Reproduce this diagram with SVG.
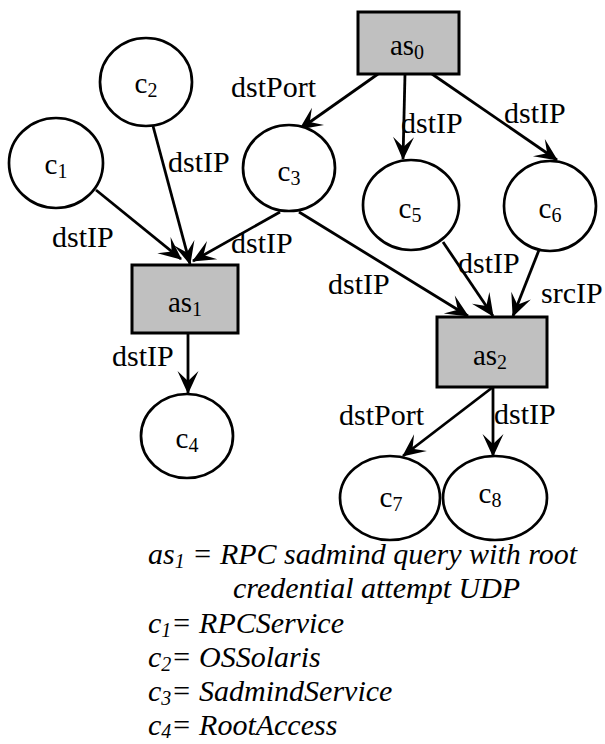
<svg xmlns="http://www.w3.org/2000/svg" width="605" height="744" viewBox="0 0 605 744">
<style>
.n{fill:#fff;stroke:#000;stroke-width:2.7}
.b{fill:#c0c0c0;stroke:#000;stroke-width:3}
.e{fill:none;stroke:#000;stroke-width:2.8}
text{font-family:"Liberation Serif","Times New Roman",serif;fill:#000}
.t{font-size:29px;text-anchor:middle}
.l{font-size:30px}
.g{font-size:30px;font-style:italic}
.s{font-size:20px}
</style>
<defs>
<marker id="ah" markerUnits="userSpaceOnUse" markerWidth="26" markerHeight="24" viewBox="-24 -12 26 24" refX="0" refY="0" orient="auto" overflow="visible">
<path d="M1,0 L-22,-10.5 L-12,0 L-22,10.5 Z" fill="#000"/>
</marker>
</defs>
<g id="connectors">
<line class="e" x1="378" y1="74" x2="300" y2="129" marker-end="url(#ah)"/>
<line class="e" x1="405" y1="74" x2="403" y2="159" marker-end="url(#ah)"/>
<line class="e" x1="432" y1="74" x2="557" y2="160" marker-end="url(#ah)"/>
<line class="e" x1="153" y1="126" x2="190" y2="264" marker-end="url(#ah)"/>
<line class="e" x1="96" y1="190" x2="181" y2="259" marker-end="url(#ah)"/>
<line class="e" x1="280" y1="212" x2="193" y2="261" marker-end="url(#ah)"/>
<line class="e" x1="299" y1="212" x2="468" y2="316" marker-end="url(#ah)"/>
<line class="e" x1="443" y1="242" x2="493" y2="316" marker-end="url(#ah)"/>
<line class="e" x1="539" y1="250" x2="513" y2="316" marker-end="url(#ah)"/>
<line class="e" x1="188" y1="333" x2="188" y2="393" marker-end="url(#ah)"/>
<line class="e" x1="493" y1="387" x2="403" y2="456" marker-end="url(#ah)"/>
<line class="e" x1="493" y1="387" x2="493" y2="456" marker-end="url(#ah)"/>
<text class="l" x="231" y="97">dstPort</text>
<text class="l" x="168" y="172">dstIP</text>
<text class="l" x="52" y="247">dstIP</text>
<text class="l" x="231" y="253">dstIP</text>
<text class="l" x="401" y="133">dstIP</text>
<text class="l" x="504" y="123">dstIP</text>
<text class="l" x="328" y="294">dstIP</text>
<text class="l" x="458" y="273">dstIP</text>
<text class="l" x="541" y="303">srcIP</text>
<text class="l" x="112" y="366">dstIP</text>
<text class="l" x="339" y="425">dstPort</text>
<text class="l" x="494" y="424">dstIP</text>
</g>
<g id="as0"><rect class="b" x="358" y="12" width="101" height="62"/><text class="t" x="407" y="55">as<tspan class="s" dy="4">0</tspan></text></g>
<g id="c1"><ellipse class="n" cx="56" cy="163" rx="47" ry="45"/><text class="t" x="56" y="174">c<tspan class="s" dy="4">1</tspan></text></g>
<g id="c2"><ellipse class="n" cx="146" cy="82" rx="46" ry="44"/><text class="t" x="146" y="93">c<tspan class="s" dy="4">2</tspan></text></g>
<g id="c3"><ellipse class="n" cx="289" cy="168" rx="46" ry="43"/><text class="t" x="289" y="181">c<tspan class="s" dy="4">3</tspan></text></g>
<g id="c5"><ellipse class="n" cx="411" cy="205" rx="48" ry="45"/><text class="t" x="410" y="218">c<tspan class="s" dy="4">5</tspan></text></g>
<g id="c6"><ellipse class="n" cx="550" cy="206" rx="46" ry="45"/><text class="t" x="550" y="218">c<tspan class="s" dy="4">6</tspan></text></g>
<g id="as1"><rect class="b" x="132" y="265" width="106" height="68"/><text class="t" x="185" y="312">as<tspan class="s" dy="4">1</tspan></text></g>
<g id="c4"><ellipse class="n" cx="187" cy="436" rx="46" ry="42"/><text class="t" x="187" y="448">c<tspan class="s" dy="4">4</tspan></text></g>
<g id="as2"><rect class="b" x="437" y="317" width="110" height="70"/><text class="t" x="490" y="365">as<tspan class="s" dy="4">2</tspan></text></g>
<g id="c7"><ellipse class="n" cx="390" cy="498" rx="50" ry="42"/><text class="t" x="391" y="507">c<tspan class="s" dy="4">7</tspan></text></g>
<g id="c8"><ellipse class="n" cx="495" cy="498" rx="52" ry="42"/><text class="t" x="490" y="503">c<tspan class="s" dy="4">8</tspan></text></g>
<g id="legend">
<text class="g" x="148" y="564">as<tspan class="s" dy="4">1</tspan><tspan dy="-4"> = RPC sadmind query with root</tspan></text>
<text class="g" x="233" y="598">credential attempt UDP</text>
<text class="g" x="148" y="633">c<tspan class="s" dy="4">1</tspan><tspan dy="-4">= RPCService</tspan></text>
<text class="g" x="148" y="667">c<tspan class="s" dy="4">2</tspan><tspan dy="-4">= OSSolaris</tspan></text>
<text class="g" x="148" y="701">c<tspan class="s" dy="4">3</tspan><tspan dy="-4">= SadmindService</tspan></text>
<text class="g" x="148" y="735">c<tspan class="s" dy="3">4</tspan><tspan dy="-3">= RootAccess</tspan></text>
</g>
</svg>
